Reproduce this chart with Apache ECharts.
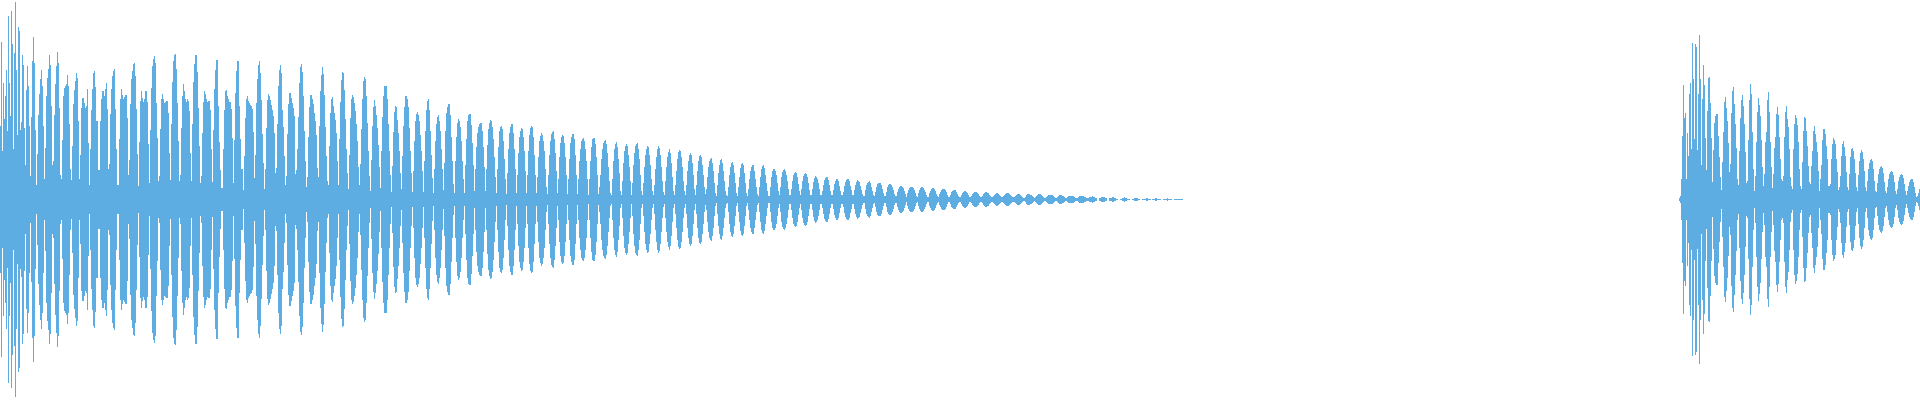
<!DOCTYPE html>
<html>
<head>
<meta charset="utf-8">
<style>html,body{margin:0;padding:0;background:#fff}#c{width:1920px;height:400px}</style>
<script src="https://cdn.jsdelivr.net/npm/echarts@6/dist/echarts.min.js"></script>
</head>
<body>
<div id="c"></div>
<script>
// Peak amplitude per time column
const burstA0 = [73,157,48,116,80,103,129,68,183,116,83,188,155,50,146,197,129,64,172,168,69,77,144,134,71,34,109,133,113,73,23,82,138,162,136,69,
14,45,84,105,120,129,113,73,20,51,103,121,130,144,134,93,34,38,84,115,133,147,136,91,24,20,59,103,111,113,115,124,113,75,30,19,53,95,109,118,126,121,78,20,44,91,101,101,96,91,93,110,56,14,50,89,110,126,128,112,78,78,29,29];
const burstA1 = [78,100,108,108,103,110,116,90,30,35,
85,110,123,128,130,90,50,14,14,60,
100,110,104,100,102,104,104,81,24,39,
95,120,128,135,136,123,90,45,13,57,
98,108,101,97,100,108,108,97,55,16,
69,111,133,140,143,136,96,61,18,23,
70,100,105,100,96,97,98,98,86,46,
19,75,117,138,144,145,130,96,58,18,
24,71,103,115,108,100,97,100,98,88,
46,18,75,117,135,144,144,127,91,53,
16,23,66,97,108,105,100,97,98,98,
89,50,17,69,110,129,139,139,93,57,
29,11,11,50,89,108,109,103,100,97,
97,90,61,16,59,106,128,138,138,93,
60,30,30,9,43,81,100,103,98,96,
94,93,90,67,21,44,96,120,134,138,
126,99,65,36,10,30,71,99,105,103,
99,94,89,83,66,26,31,75,113,129,
134,126,89,72,43,14,23,65,95,106,
106,101,96,91,83,25,29,50,82,116];
const burstA2 = [132,135,127,103,68,38,12,22,62,92,104,104,100,95,86,78,64,31,22,73,108,124,132,125,104,72,43,18,14,53,86,100,102,93,86,79,66,38,14,60,97,119,127,126,109,80,50,26,10,44,81,100,104,102,96,88,75,58,32,14,35,70,100,118,122,120,103,76,48,23,8,39,73,92,99,93,84,71,54,32,11,48,82,103,113,113,113,100,75,48,24,7,33,67,87,93,92,79,66,48,26,10,43,73,92,103,103,100,92,71,48,26,7,28,58,78,85,87,84,78,64,48,28,7,38,68,89,98,100,89,68,44,21,6,
30,58,75,82,84,78,68,50,30,9,
36,68,86,92,95,95,84,62,38,15,6,
38,62,76,80,78,72,58,38,20,6,
34,60,78,84,85,85,74,56,34,8,
30,52,66,72,75,76,76,68,52,32,8,
30,54,70,76,79,78,72,60,42,22,6,
30,52,68,72,73,70,58,40,20,5,
26,50,66,72,75,75,66,50,30,6,
24,46,62,68,71,70,62,48,28,6,
24,48,64,71,73,72,62,44,24,6,
22,42,58,63,66,64,58,48,30,12,5,
24,44,58,65,67,68,60,46,28,6,
20,42,56,62,64,63,56,42,24,5,
20,40,56,62,65,65,60,44,24,5,
20,38,50,58,60,61,58,50,38,20,4,
20,38,52,60,61,61,55,42,24,5];
const burstA3 = [12,24,40,50,56,58,59,55,46,32,18,6,4,
20,38,50,55,57,52,40,26,8,4,
18,36,48,53,55,53,44,32,18,4,
16,34,46,53,55,56,50,40,24,8,4,
16,32,44,50,53,52,44,34,20,8,4,
14,30,42,50,53,51,44,32,18,7,4,
18,32,42,47,50,46,36,22,8,4,
14,28,40,47,49,48,42,32,18,8,4,
14,28,38,44,46,44,36,24,10,4,
14,28,38,43,44,42,34,24,12,5,
10,22,32,38,40,41,36,28,16,6,3,
14,26,34,39,40,36,28,18,8,4,3,
12,24,32,36,37,34,26,16,6,3,
12,22,31,35,36,34,26,16,6,3,
10,20,28,32,34,34,28,20,12,5,3,
12,22,30,33,34,31,24,16,8,3,3,
12,22,28,30,30,28,24,16,8,4,
12,22,27,29,30,28,24,18,10,4,4,
10,18,24,26,27,26,22,15,8,4,
10,18,23,25,26,25,22,16,9,4,4,
10,17,21,23,22,20,16,10,4,4,
8,14,19,21,22,22,19,14,8,4,4,
9,15,18,20,20,18,13,8,4,4,
7,13,17,19,20,20,18,13,9,4,4,
9,14,17,19,18,17,13,9,5,3,3,
9,14,16,17,18,16,12,8,4,3,
7,12,15,16,16,16,14,10,6,3,3,
7,12,14,15,15,14,12,9,5,3,3];
const burstA4 = [7,10,12,13,13,12,11,8,5,2,
6,9,11,12,12,12,11,9,6,3,2,
6,9,11,12,12,11,9,7,4,2,2,
6,8,10,11,11,10,8,5,3,2,
5,7,9,10,10,10,9,7,4,2,2,
4,7,8,9,9,9,7,5,3,2,2,
4,6,7,8,8,7,6,4,2,2,
3,5,6,7,7,7,6,5,3,2,2,
3,5,6,7,7,6,6,4,3,2,2,
3,4,5,6,6,5,4,3,2,2,
3,4,5,6,6,6,5,4,3,2,2,
2,3,4,5,5,5,4,3,2,1,1,
2,4,5,5,5,4,4,3,2,1,
2,3,4,5,5,5,4,3,2,1,1,
2,3,4,4,4,4,4,3,2,1,1,
2,3,4,4,4,3,3,2,1,1,
2,3,3,3,3,3,3,2,1,1,1,
2,3,3,3,3,3,2,2,1,1,
1,2,2,2,3,2,2,1,1,null,null,
1,1,2,2,2,2,1,1,null,null,
1,1,1,2,2,1,1,0,0,null,null,
0,0,1,1,2,1,1,0,0,0,null,
null,0,0,1,1,1,1,0,0,null,
null,0,0,0,0,1,1,0,0,0,null,
0,0,0,1,1,0,0,0,0,null,null,
0,0,0,0,1,0,0,0,0,null,
null,0,0,0,0,0,0,0,0,0];
const burstB = [1,3,20,63,114,81,86,20,66,43,105,116,50,156,120,60,155,152,49,105,164,120,34,100,134,114,61,29,88,121,122,96,61,17,49,76,83,85,85,63,42,22,9,37,67,97,102,91,78,56,27,35,86,108,112,95,75,51,20,14,48,81,99,104,93,75,47,16,18,59,99,115,105,67,30,8,23,57,87,101,94,83,59,32,13,25,57,67,99,107,87,57,32,11,25,51,62,85,92,84,62,40,20,18,23,62,87,93,80,72,50,22,13,10,50,75,84,81,74,57,30,13,10,37,68,82,81,68,53,33,17,15,33,48,68,73,65,57,47,28,8,20,34,59,70,70,65,53,40,13,13,15,40,55,61,59,55,40,27,9,12,23,43,55,58,52,43,27,12,9,
25,42,50,51,48,40,26,12,8,
24,38,46,49,47,40,28,12,8,
18,30,36,39,40,38,30,18,8,7,
16,25,30,32,33,31,26,17,8,6,
12,20,25,27,28,27,24,17,8,5,
10,18,22,24,25,24,21,15,8,4,
8,13,17,19,20,20,17,12,6,2,3,6,10];
const segments = [[0,burstA0],[100,burstA1],[300,burstA2],[599,burstA3],[897,burstA4],[1679,burstB]];
const columnCount = 1920;
const categories = Array.from({length:columnCount},(_,i)=>i);
const amp = new Array(columnCount).fill(null);
segments.forEach(([start,vals])=>vals.forEach((v,i)=>{amp[start+i]=v;}));
const chart = echarts.init(document.getElementById('c'),null,{renderer:'canvas'});
chart.setOption({
  animation:false,
  grid:{left:0,right:0,top:0,bottom:0},
  xAxis:{type:'category',data:categories,show:false,boundaryGap:true},
  yAxis:{type:'value',min:-201,max:199,show:false},
  series:[
    {type:'bar',data:amp,barWidth:'100%',barGap:'-100%',itemStyle:{color:'#5DADE2'},silent:true},
    {type:'bar',data:amp.map(v=>v===null?null:-(v+1)),barWidth:'100%',barGap:'-100%',itemStyle:{color:'#5DADE2'},silent:true}
  ]
});
</script>
</body>
</html>
